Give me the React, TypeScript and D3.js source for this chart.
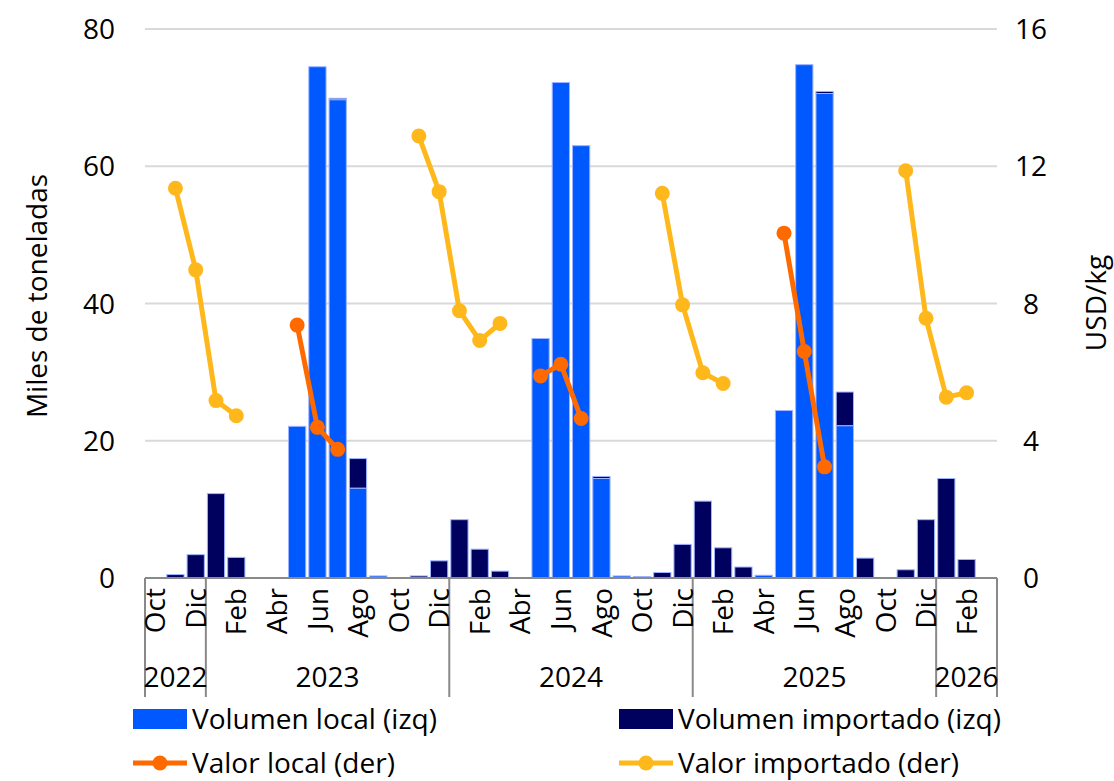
import React, { useRef, useEffect } from 'react';
import * as d3 from 'd3';

// Months Oct 2022 - Mar 2026
const months = [
  'Oct', 'Nov', 'Dic',
  'Ene', 'Feb', 'Mar', 'Abr', 'May', 'Jun', 'Jul', 'Ago', 'Sep', 'Oct', 'Nov', 'Dic',
  'Ene', 'Feb', 'Mar', 'Abr', 'May', 'Jun', 'Jul', 'Ago', 'Sep', 'Oct', 'Nov', 'Dic',
  'Ene', 'Feb', 'Mar', 'Abr', 'May', 'Jun', 'Jul', 'Ago', 'Sep', 'Oct', 'Nov', 'Dic',
  'Ene', 'Feb', 'Mar',
];
const years = ['2022', '2023', '2024', '2025', '2026'];
const monthsPerYear = [3, 12, 12, 12, 3];

// Miles de toneladas
const localVolume = [
  0, 0, 0,
  0, 0, 0, 0, 22.1, 74.5, 69.7, 13.1, 0.3, 0, 0, 0,
  0, 0, 0, 0, 34.9, 72.2, 63.0, 14.5, 0.3, 0.2, 0, 0,
  0, 0, 0, 0.4, 24.4, 74.8, 70.6, 22.2, 0, 0, 0, 0,
  0, 0, 0,
];
const importVolume = [
  0, 0.5, 3.4,
  12.3, 3.0, 0, 0, 0, 0, 0.2, 4.3, 0, 0, 0.3, 2.5,
  8.5, 4.2, 1.0, 0, 0, 0, 0, 0.3, 0, 0, 0.8, 4.9,
  11.2, 4.4, 1.6, 0, 0, 0, 0.3, 4.9, 2.9, 0, 1.2, 8.5,
  14.5, 2.7, 0,
];

// USD/kg
const localValue = [
  null, null, null,
  null, null, null, null, 7.37, 4.39, 3.75, null, null, null, null, null,
  null, null, null, null, 5.89, 6.23, 4.65, null, null, null, null, null,
  null, null, null, null, 10.05, 6.6, 3.24, null, null, null, null, null,
  null, null, null,
];
const importValue = [
  null, 11.36, 8.98,
  5.17, 4.73, null, null, null, null, null, null, null, null, 12.88, 11.26,
  7.79, 6.92, 7.42, null, null, null, null, null, null, null, 11.21, 7.96,
  5.98, 5.67, null, null, null, null, null, null, null, null, 11.87, 7.57,
  5.27, 5.40, null,
];

const leftTicks = [0, 20, 40, 60, 80];
const rightTicks = [0, 4, 8, 12, 16];

const FONT = "'Open Sans', sans-serif";
const BLUE = '#0058FF';
const NAVY = '#00005E';
const ORANGE = '#FF6A00';
const YELLOW = '#FFB81C';

const App = () => {
  const svgRef = useRef(null);

  useEffect(() => {
    const svg = d3.select(svgRef.current);
    svg.selectAll('*').remove();

    const left = 145;
    const right = 997;
    const top = 29;
    const bottom = 578;

    const idx = months.map((_, i) => i);
    const x = d3.scaleBand().domain(idx).range([left, right]).paddingInner(0.15).paddingOuter(0.075);
    const yL = d3.scaleLinear().domain([0, 80]).range([bottom, top]);
    const yR = d3.scaleLinear().domain([0, 16]).range([bottom, top]);
    const step = x.step();
    const cx = (i) => x(i) + x.bandwidth() / 2;

    // Gridlines
    svg.append('g')
      .selectAll('line')
      .data(leftTicks.filter((t) => t > 0))
      .enter()
      .append('line')
      .attr('x1', left)
      .attr('x2', right)
      .attr('y1', (d) => yL(d))
      .attr('y2', (d) => yL(d))
      .attr('stroke', '#D9D9D9')
      .attr('stroke-width', 2);

    // Bars: local bottom, imported stacked on top
    const bars = svg.append('g');
    bars.selectAll('.local')
      .data(localVolume)
      .enter()
      .append('rect')
      .attr('class', 'local')
      .attr('x', (_, i) => x(i))
      .attr('y', (d) => yL(d))
      .attr('width', x.bandwidth())
      .attr('height', (d) => yL(0) - yL(d))
      .attr('fill', BLUE)
      .attr('stroke', (d) => (d > 0 ? '#9FB4FF' : 'none'))
      .attr('stroke-width', 1);

    bars.selectAll('.import')
      .data(importVolume)
      .enter()
      .append('rect')
      .attr('class', 'import')
      .attr('x', (_, i) => x(i))
      .attr('y', (d, i) => yL(d + localVolume[i]))
      .attr('width', x.bandwidth())
      .attr('height', (d) => yL(0) - yL(d))
      .attr('fill', NAVY)
      .attr('stroke', (d) => (d > 0 ? '#9FB4FF' : 'none'))
      .attr('stroke-width', 1);

    // Category axis
    svg.append('line')
      .attr('x1', left).attr('x2', right)
      .attr('y1', bottom).attr('y2', bottom)
      .attr('stroke', '#898989').attr('stroke-width', 2);

    let acc = 0;
    const bounds = [0];
    monthsPerYear.forEach((n) => { acc += n; bounds.push(acc); });
    svg.append('g')
      .selectAll('line')
      .data(bounds)
      .enter()
      .append('line')
      .attr('x1', (b) => left + b * step)
      .attr('x2', (b) => left + b * step)
      .attr('y1', bottom)
      .attr('y2', 697)
      .attr('stroke', '#898989')
      .attr('stroke-width', 2);

    svg.append('g')
      .selectAll('text')
      .data(idx.filter((i) => i % 2 === 0))
      .enter()
      .append('text')
      .attr('transform', (i) => `translate(${cx(i)},588) rotate(-90)`)
      .attr('dy', '0.36em')
      .attr('text-anchor', 'end')
      .attr('font-family', FONT)
      .attr('font-size', 28)
      .attr('fill', '#000')
      .text((i) => months[i]);

    svg.append('g')
      .selectAll('text')
      .data(years)
      .enter()
      .append('text')
      .attr('x', (_, k) => left + ((bounds[k] + bounds[k + 1]) / 2) * step)
      .attr('y', 687)
      .attr('text-anchor', 'middle')
      .attr('font-family', FONT)
      .attr('font-size', 28)
      .attr('fill', '#000')
      .text((d) => d);

    // Value axes labels
    svg.append('g')
      .selectAll('text')
      .data(leftTicks)
      .enter()
      .append('text')
      .attr('x', 115)
      .attr('y', (d) => yL(d))
      .attr('dy', '0.36em')
      .attr('text-anchor', 'end')
      .attr('font-family', FONT)
      .attr('font-size', 28)
      .text((d) => d);

    svg.append('g')
      .selectAll('text')
      .data(rightTicks)
      .enter()
      .append('text')
      .attr('x', 1031)
      .attr('y', (d) => yR(d))
      .attr('dy', '0.36em')
      .attr('text-anchor', 'middle')
      .attr('font-family', FONT)
      .attr('font-size', 28)
      .text((d) => d);

    svg.append('text')
      .attr('transform', 'translate(47,296) rotate(-90)')
      .attr('text-anchor', 'middle')
      .attr('font-family', FONT)
      .attr('font-size', 28)
      .text('Miles de toneladas');

    svg.append('text')
      .attr('transform', 'translate(1106,303) rotate(-90)')
      .attr('text-anchor', 'middle')
      .attr('font-family', FONT)
      .attr('font-size', 28)
      .text('USD/kg');

    // Lines
    const drawLine = (values, color) => {
      const line = d3.line()
        .defined((d) => d != null)
        .x((_, i) => cx(i))
        .y((d) => yR(d));
      svg.append('path')
        .datum(values)
        .attr('d', line)
        .attr('fill', 'none')
        .attr('stroke', color)
        .attr('stroke-width', 5)
        .attr('stroke-linejoin', 'round');
      svg.append('g')
        .selectAll('circle')
        .data(values.map((v, i) => ({ v, i })).filter((d) => d.v != null))
        .enter()
        .append('circle')
        .attr('cx', (d) => cx(d.i))
        .attr('cy', (d) => yR(d.v))
        .attr('r', 7.5)
        .attr('fill', color);
    };
    drawLine(importValue, YELLOW);
    drawLine(localValue, ORANGE);

    // Legend
    const legend = [
      { label: 'Volumen local (izq)', color: BLUE, type: 'bar', lx: 133, ly: 719 },
      { label: 'Volumen importado (izq)', color: NAVY, type: 'bar', lx: 619, ly: 719 },
      { label: 'Valor local (der)', color: ORANGE, type: 'line', lx: 133, ly: 763 },
      { label: 'Valor importado (der)', color: YELLOW, type: 'line', lx: 619, ly: 763 },
    ];
    const lg = svg.append('g')
      .selectAll('g')
      .data(legend)
      .enter()
      .append('g')
      .attr('transform', (d) => `translate(${d.lx},${d.ly})`);
    lg.filter((d) => d.type === 'bar')
      .append('rect')
      .attr('x', 0).attr('y', -10)
      .attr('width', 54).attr('height', 20)
      .attr('fill', (d) => d.color);
    lg.filter((d) => d.type === 'line')
      .append('line')
      .attr('x1', 0).attr('x2', 54)
      .attr('y1', 0).attr('y2', 0)
      .attr('stroke', (d) => d.color)
      .attr('stroke-width', 5);
    lg.filter((d) => d.type === 'line')
      .append('circle')
      .attr('cx', 27).attr('cy', 0).attr('r', 7.5)
      .attr('fill', (d) => d.color);
    lg.append('text')
      .attr('x', 59)
      .attr('y', 0)
      .attr('dy', '0.36em')
      .attr('font-family', FONT)
      .attr('font-size', 28)
      .text((d) => d.label);
  }, []);

  return (
    <svg
      ref={svgRef}
      width={1114}
      height={781}
      style={{ position: 'absolute', left: 0, top: 0, background: '#fff' }}
    />
  );
};

export default App;
